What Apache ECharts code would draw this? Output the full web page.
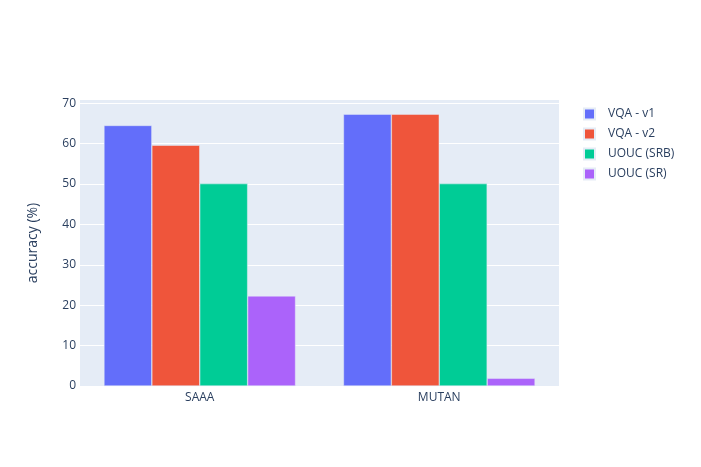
<!DOCTYPE html>
<html><head><meta charset="utf-8">
<script src="https://cdn.jsdelivr.net/npm/echarts@6/dist/echarts.min.js"></script>
<style>html,body{margin:0;padding:0;background:#fff}#c{width:701px;height:467px}</style>
</head><body><div id="c"></div>
<script>
const categories = ['SAAA', 'MUTAN'];
const seriesNames = ['VQA - v1', 'VQA - v2', 'UOUC (SRB)', 'UOUC (SR)'];
const vqaV1 = [64.5, 67.3];
const vqaV2 = [59.6, 67.3];
const uoucSRB = [50.1, 50.1];
const uoucSR = [22.3, 1.9];
const colors = ['#636efa', '#EF553B', '#00cc96', '#ab63fa'];
const allData = [vqaV1, vqaV2, uoucSRB, uoucSR];
const font = '"Open Sans", "Noto Sans", sans-serif';
const chart = echarts.init(document.getElementById('c'), null, {renderer: 'canvas'});
chart.setOption({
  animation: false,
  backgroundColor: '#fff',
  textStyle: {fontFamily: font},
  grid: {left: 80, right: 142, top: 100, bottom: 81, show: true, backgroundColor: '#E5ECF6', borderWidth: 0},
  legend: {
    orient: 'vertical', left: 578, top: 102, itemWidth: 11, itemHeight: 11, itemGap: 6,
    icon: 'rect', textStyle: {color: '#2a3f5f', fontSize: 12, fontFamily: font, padding: [0, 0, 0, 8], lineHeight: 14},
    data: seriesNames
  },
  xAxis: {
    type: 'category', data: categories,
    axisLine: {show: false}, axisTick: {show: false},
    axisLabel: {color: '#2a3f5f', fontSize: 12, margin: 6, fontFamily: font}
  },
  yAxis: {
    type: 'value', min: 0, max: 70.8, interval: 10,
    name: 'accuracy (%)', nameLocation: 'middle', nameGap: 40,
    nameTextStyle: {color: '#2a3f5f', fontSize: 14, fontFamily: font},
    axisLine: {show: false}, axisTick: {show: false},
    axisLabel: {color: '#2a3f5f', fontSize: 12, margin: 4, showMaxLabel: false, fontFamily: font,
      formatter: v => (v % 10 === 0 ? String(v) : '')},
    splitLine: {lineStyle: {color: '#ffffff', width: 1}, showMaxLine: false}
  },
  series: seriesNames.map((n, i) => ({
    name: n, type: 'bar', data: allData[i],
    barGap: '0%', barCategoryGap: '20%',
    itemStyle: {color: colors[i], borderColor: '#E5ECF6', borderWidth: 0.5}
  }))
});
</script></body></html>
